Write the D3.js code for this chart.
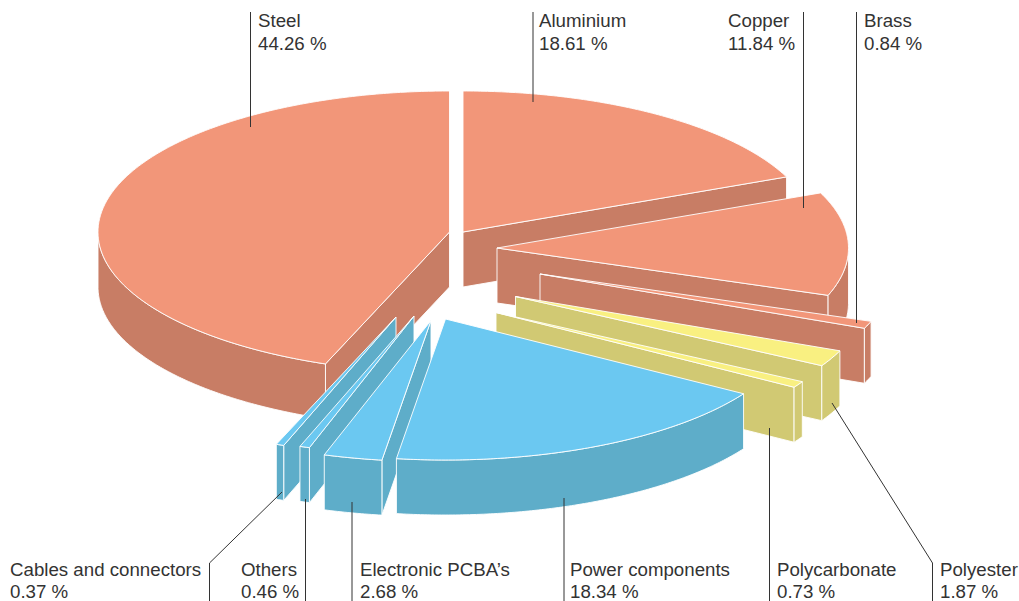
<!DOCTYPE html>
<html><head><meta charset="utf-8">
<script src="https://cdnjs.cloudflare.com/ajax/libs/d3/7.8.5/d3.min.js"></script>
<style>html,body{margin:0;padding:0;background:#fff;overflow:hidden}
text{font-family:"Liberation Sans",Arial,sans-serif;font-size:18.7px;fill:#333}</style>
</head><body><svg id="c" width="1019" height="601"></svg>
<script>
// clockwise from 12 o'clock
const categories = ["Aluminium","Copper","Brass","Polyester","Polycarbonate","Power components","Electronic PCBA\u2019s","Others","Cables and connectors","Steel"];
const shares = [18.61,11.84,0.84,1.87,0.73,18.34,2.68,0.46,0.37,44.26];
const groups = ["metal","metal","metal","plastic","plastic","electric","electric","electric","electric","metal"];

// layout: wedge apex on the page, and how far the rim reaches
const apexX = [463,497,540,515.5,496,445.5,431,414,396,449.5];
const apexY = [232,248,274,296.5,312.5,319,320.5,316,317,232];
const reach = [1,1,1,1,1,1,1,0.98,0.965,1];
const paintOrder = ["Aluminium","Steel","Copper","Brass","Polyester","Polycarbonate","Cables and connectors","Others","Electronic PCBA\u2019s","Power components"];
const rimX = 351.5, rimY = 141, depth = 55;
const topFill = {metal:"#F29679",plastic:"#F9F081",electric:"#6BC8F1"};
const sideFill = {metal:"#C87D65",plastic:"#D1C973",electric:"#5EADC9"};

// labels
const labelX = {"Steel":258,"Aluminium":539,"Copper":728,"Brass":864,"Cables and connectors":10,"Others":241,"Electronic PCBA\u2019s":360,"Power components":570,"Polycarbonate":777,"Polyester":940};
const topLabels = ["Steel","Aluminium","Copper","Brass"];
const leaders = [
 [[250.5,12],[250.5,127]],[[533,12],[533,102]],[[803.5,12],[803.5,208]],[[856.5,12],[856.5,323]],
 [[282,492],[209.5,563],[209.5,601]],[[305.5,499],[305.5,601]],[[352,502],[352,601]],
 [[564,498],[564,601]],[[769.5,428],[769.5,601]],[[832,403],[932.5,563],[932.5,601]]
];

const svg = d3.select("#c");
const unitX = d3.scaleLinear().domain([-1,1]).range([-rimX,rimX]);
const unitY = d3.scaleLinear().domain([-1,1]).range([-rimY,rimY]);
const pie = d3.pie().sort(null).value(d=>d)(shares);
const line = d3.line();
const HALF = Math.PI/2;

function at(i,a,r,drop){
  return [apexX[i]+unitX(Math.sin(a)*r), apexY[i]+unitY(-Math.cos(a)*r)+drop];
}
function arcPts(i,a0,a1,r,drop){
  const n = Math.max(2,Math.ceil((a1-a0)/0.01));
  return d3.range(n+1).map(k=>at(i,a0+(a1-a0)*k/n,r,drop));
}
paintOrder.forEach(name=>{
  const i = categories.indexOf(name), p = pie[i], g = groups[i], r = reach[i];
  const a0 = p.startAngle, a1 = p.endAngle;
  const layer = svg.append("g").attr("data-name",name);
  const face = (pts,fill)=>layer.append("path").attr("d",line(pts)+"Z").attr("fill",fill)
     .attr("stroke","#fff").attr("stroke-width",0.9).attr("stroke-linejoin","round");
  const apex = at(i,0,0,0), apexLow = at(i,0,0,depth);
  // radial wall at the start is visible when its outward normal faces the viewer
  if(-Math.cos(a0-HALF)>0){
    face([apex,at(i,a0,r,0),at(i,a0,r,depth),apexLow],sideFill[g]);
  }
  if(-Math.cos(a1+HALF)>0){
    face([apex,at(i,a1,r,0),at(i,a1,r,depth),apexLow],sideFill[g]);
  }
  const w0 = Math.max(a0,HALF), w1 = Math.min(a1,3*HALF);
  if(w1>w0){
    face(arcPts(i,w0,w1,r,0).concat(arcPts(i,w0,w1,r,depth).reverse()),sideFill[g]);
  }
  face([apex].concat(arcPts(i,a0,a1,r,0)),topFill[g]);
});

leaders.forEach(l=>svg.append("path").attr("d",line(l)).attr("fill","none").attr("stroke","#333").attr("stroke-width",1));

categories.forEach((name,i)=>{
  const top = topLabels.includes(name);
  const t = svg.append("text").attr("x",labelX[name]);
  t.append("tspan").attr("x",labelX[name]).attr("y",top?27:575.5).text(name);
  t.append("tspan").attr("x",labelX[name]).attr("y",top?49.5:598).text(shares[i].toFixed(2)+" %");
});
</script></body></html>
